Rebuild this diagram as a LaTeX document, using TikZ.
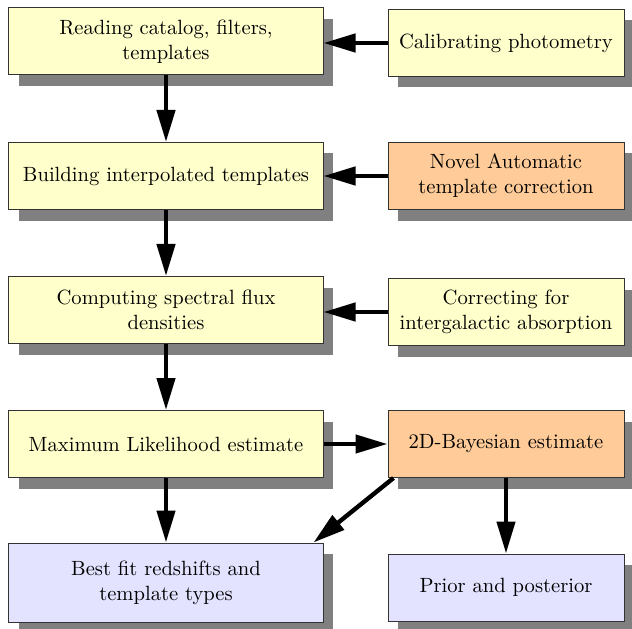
\documentclass[tikz,border=0pt]{standalone}
\usetikzlibrary{shadows,arrows.meta}
\definecolor{stepyellow}{RGB}{255,255,204}
\definecolor{steporange}{RGB}{255,204,153}
\definecolor{stepblue}{RGB}{227,227,255}
\begin{document}
\begin{tikzpicture}[x=0.5bp, y=-0.5bp,
  box/.style={draw=black!80, line width=0.5bp, align=center, inner sep=0pt,
    font=\fontsize{10.3bp}{12.5bp}\selectfont,
    drop shadow={shadow xshift=5bp, shadow yshift=-5.5bp, fill=black!50, opacity=1}},
  wide/.style={box, minimum width=157bp, minimum height=33.5bp},
  narrow/.style={box, minimum width=118bp, minimum height=33.5bp},
  arr/.style={-{Triangle[length=16bp, width=9bp]}, line width=2.2bp}]
\useasboundingbox (0,0) rectangle (632,629);
\node[wide, fill=stepyellow] (read) at (166,41.5) {Reading catalog, filters,\\templates};
\node[narrow, fill=stepyellow] (calib) at (506,43) {Calibrating photometry};
\draw[arr] (calib.west) -- (calib.west -| read.east);
\node[wide, fill=stepyellow] (build) at (166,176) {Building interpolated templates};
\node[narrow, fill=steporange] (novel) at (506,176) {Novel Automatic\\template correction};
\draw[arr] (novel.west) -- (novel.west -| build.east);
\draw[arr] (read) -- (build);
\node[wide, fill=stepyellow] (comp) at (166,310) {Computing spectral flux\\densities};
\node[narrow, fill=stepyellow] (corr) at (506,312) {Correcting for\\intergalactic absorption};
\draw[arr] (corr.west) -- (corr.west -| comp.east);
\draw[arr] (build) -- (comp);
\node[wide, fill=stepyellow] (maxl) at (166,444) {Maximum Likelihood estimate};
\node[narrow, fill=steporange] (bayes) at (506,444) {2D-Bayesian estimate};
\draw[arr] (maxl) -- (bayes);
\draw[arr] (comp) -- (maxl);
\node[wide, fill=stepblue, minimum height=39.5bp] (best) at (166,582.5) {Best fit redshifts and\\template types};
\node[narrow, fill=stepblue] (prior) at (506,587.5) {Prior and posterior};
\draw[arr] (maxl) -- (best);
\draw[arr] (bayes) -- (prior);
\draw[arr] ([xshift=3bp]bayes.south west) -- ([xshift=-5bp]best.north east);
\end{tikzpicture}
\end{document}
